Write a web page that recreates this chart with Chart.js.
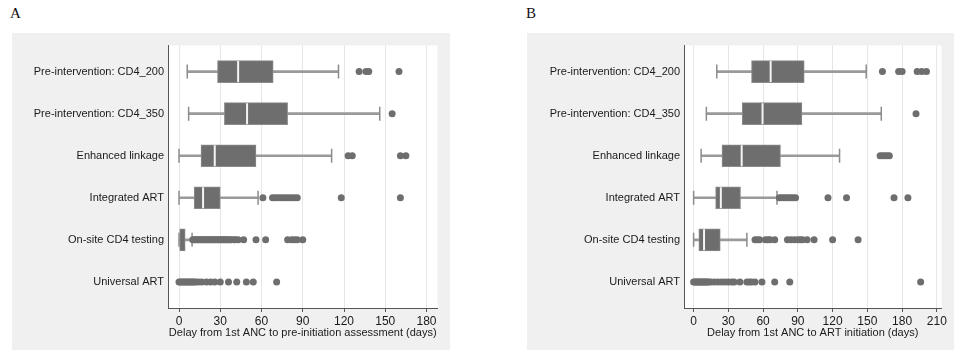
<!DOCTYPE html>
<html>
<head>
<meta charset="utf-8">
<script src="https://cdn.jsdelivr.net/npm/chart.js@4"></script>
<style>
  body { margin: 0; background: #fff; width: 954px; height: 350px; position: relative; overflow: hidden; }
  .panel { position: absolute; top: 33px; height: 317px; background: #f0f0f0; }
  .tag { position: absolute; top: 5px; font: 15px "Liberation Serif", serif; color: #111; }
</style>
</head>
<body>
<div class="tag" style="left:10px">A</div>
<div class="tag" style="left:526px">B</div>
<div class="panel" style="left:12px;width:438px"><canvas id="chartA" width="438" height="317"></canvas></div>
<div class="panel" style="left:527px;width:427px"><canvas id="chartB" width="427" height="317"></canvas></div>
<script>
const categories = ['Pre-intervention: CD4_200', 'Pre-intervention: CD4_350', 'Enhanced linkage',
  'Integrated ART', 'On-site CD4 testing', 'Universal ART'];

// panel A: delay to pre-initiation assessment (days)
const ticksA = [0, 30, 60, 90, 120, 150, 180];
const lowA  = [6, 7, 0, 0, 0, null];
const q1A   = [28, 33, 16, 11, 0.5, null];
const medA  = [43, 49.5, 26, 17.5, null, null];
const q3A   = [68.5, 79, 56, 30, 4.5, null];
const highA = [116, 146, 111, 57.5, 9.5, null];
const outA = [
  [131, 136, 138, 160],
  [155],
  [123, 126, 161, 165],
  [61, 68, 70, 72, 74, 76, 78, 80, 82, 84, 86, 118, 161],
  [10, 11, 12, 13, 14, 15, 16, 17, 18, 19, 20, 21, 22, 23, 24, 25, 26, 27, 28, 29, 30, 31, 32, 33,
   34, 35, 36, 37, 38, 40, 41, 43, 47, 56, 63, 79, 82, 84, 86, 90],
  [0, 1, 2, 3, 4, 5, 6, 7, 8, 9, 10, 11, 12, 14, 16.5, 20, 23, 26, 30, 36, 42, 49, 54, 71]
];

// panel B: delay to ART initiation (days)
const ticksB = [0, 30, 60, 90, 120, 150, 180, 210];
const lowB  = [20, 11, 6.5, 0, 0, null];
const q1B   = [50, 42, 24.5, 19, 4.5, null];
const medB  = [66.5, 59.5, 41.5, 23.5, 9, null];
const q3B   = [95.5, 93.5, 75, 40.5, 23, null];
const highB = [149, 162, 126, 72, 46, null];
const outB = [
  [163, 177, 180, 193, 197, 201],
  [192],
  [161, 163, 165, 167, 169],
  [74, 76, 78, 80, 82, 84, 86, 88, 116, 132, 173, 185],
  [53, 55, 57, 62, 64, 66, 70, 81, 84, 87, 90, 92, 94, 98, 104, 120, 142],
  [0, 1, 2, 3, 4, 5, 6, 7, 8, 9, 10, 11, 12, 13, 15, 18, 21, 24, 27, 30, 33, 35, 40, 46, 48, 50,
   53, 59, 70, 83, 196]
];

const plotBg = {
  id: 'plotBg',
  beforeDraw(chart) {
    const a = chart.chartArea, c = chart.ctx;
    c.save();
    c.fillStyle = '#ffffff';
    c.fillRect(a.left, a.top, a.right - a.left, a.bottom - a.top);
    c.restore();
  }
};

const family = '"Liberation Sans", Arial, sans-serif';
const font = { family, size: 11 };
const tickFont = { family, size: 12 };

function boxPanel(id, ticks, low, q1, med, q3, high, out, xmin, xmax, title, padRight, yWidth) {
  const rows = categories.map((c, i) => i);
  const whiskers = rows.filter(i => low[i] != null).map(i => ({ x: [low[i], high[i]], y: i }));
  const boxes = rows.filter(i => q1[i] != null).map(i => ({ x: [q1[i], q3[i]], y: i }));
  const medians = rows.filter(i => med[i] != null).map(i => ({ x: med[i], y: i }));
  const caps = rows.filter(i => low[i] != null)
    .flatMap(i => [{ x: low[i], y: i }, { x: high[i], y: i }]);
  const points = out.flatMap((vals, i) => vals.map(v => ({ x: v, y: i })));

  new Chart(document.getElementById(id), {
    type: 'bar',
    data: {
      datasets: [
        { type: 'scatter', data: points, order: 0, pointRadius: 3.5,
          backgroundColor: '#6e6e6e', borderWidth: 0 },
        { type: 'scatter', data: medians, order: 1, pointStyle: 'line', rotation: 90,
          pointRadius: 10.5, borderColor: '#f4f4f4', borderWidth: 2 },
        { data: boxes, order: 2, barThickness: 22, grouped: false, backgroundColor: '#6e6e6e',
          borderColor: '#8c8c8c', borderWidth: 1, borderSkipped: false },
        { type: 'scatter', data: caps, order: 3, pointStyle: 'line', rotation: 90,
          pointRadius: 7, borderColor: '#8c8c8c', borderWidth: 1.5 },
        { data: whiskers, order: 4, barThickness: 2, grouped: false, backgroundColor: '#9a9a9a',
          borderWidth: 0 }
      ]
    },
    options: {
      indexAxis: 'y',
      responsive: false,
      animation: false,
      events: [],
      layout: { padding: { top: 12, right: padRight, bottom: 0, left: 0 } },
      plugins: { legend: { display: false }, tooltip: { enabled: false } },
      scales: {
        x: {
          type: 'linear', min: xmin, max: xmax,
          afterBuildTicks: s => { s.ticks = ticks.map(v => ({ value: v })); },
          afterFit: s => { s.height = 42; },
          grid: { color: '#e6e6e6', lineWidth: 1, tickLength: 4, tickColor: '#555' },
          border: { color: '#555', width: 1 },
          ticks: { font: tickFont, color: '#1a1a1a', padding: 2, maxRotation: 0 },
          title: { display: true, text: title, font, color: '#1a1a1a', padding: { top: 0, bottom: 10 } }
        },
        y: {
          type: 'linear', min: -0.62, max: 5.62, reverse: true, offset: false,
          afterBuildTicks: s => { s.ticks = categories.map((c, i) => ({ value: i })); },
          afterFit: s => { s.width = yWidth; },
          grid: { display: false, drawTicks: false, offset: false },
          border: { color: '#555', width: 1 },
          ticks: { font, color: '#1a1a1a', padding: 4, callback: v => categories[v] }
        }
      }
    },
    plugins: [plotBg]
  });
}

boxPanel('chartA', ticksA, lowA, q1A, medA, q3A, highA, outA, -8, 188,
  'Delay from 1st ANC to pre-initiation assessment (days)', 12, 156);
boxPanel('chartB', ticksB, lowB, q1B, medB, q3B, highB, outB, -8.3, 214,
  'Delay from 1st ANC to ART initiation (days)', 1, 157);
</script>
</body>
</html>
